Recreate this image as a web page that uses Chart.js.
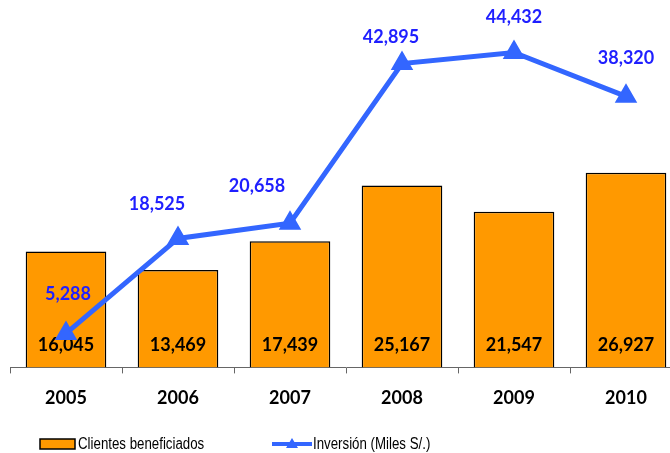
<!DOCTYPE html>
<html>
<head>
<meta charset="utf-8">
<script src="https://cdn.jsdelivr.net/npm/chart.js@4/dist/chart.umd.min.js"></script>
<style>
  html, body { margin: 0; padding: 0; background: #fff; overflow: hidden; }
  #wrap { width: 670px; height: 453px; overflow: hidden; position: relative; }
  #chart { position: absolute; left: 0; top: 0; width: 682px; height: 453px; }
</style>
</head>
<body>
<div id="wrap"><canvas id="chart" width="682" height="453"></canvas></div>
<script>
// chart data
var years = ["2005", "2006", "2007", "2008", "2009", "2010"];
var clientes = [16045, 13469, 17439, 25167, 21547, 26927];
var inversion = [5288, 18525, 20658, 42895, 44432, 38320];
var legendNames = ["Clientes beneficiados", "Inversión (Miles S/.)"];

var orange = "#FF9900";
var lineBlue = "#3366FF";
var labelBlue = "#1F1FFF";

// where each blue label sits relative to its point (hand placed in the original)
var lineLabelShift = [[2, -39], [-21, -34], [-33, -37], [-11, -26], [0, -35], [0, -38]];

function fmt(v) {
    return v.toLocaleString("en-US");
}

// draws the value labels and the legend by hand
var labelPlugin = {
    id: "valueLabels",
    afterDatasetDraw: function (chart, args) {
        if (args.index !== 0) return;
        var ctx = chart.ctx;
        ctx.save();
        ctx.font = "bold 18px Lato, 'Liberation Sans', sans-serif";
        ctx.fillStyle = "#000";
        ctx.textAlign = "center";
        ctx.textBaseline = "middle";
        var bottom = chart.chartArea.bottom;
        args.meta.data.forEach(function (bar, i) {
            ctx.fillText(fmt(clientes[i]), bar.x, bottom - 22);
        });
        ctx.restore();
    },
    afterDatasetsDraw: function (chart) {
        var ctx = chart.ctx;
        var meta = chart.getDatasetMeta(1);
        ctx.save();
        ctx.font = "bold 18px Lato, 'Liberation Sans', sans-serif";
        ctx.fillStyle = labelBlue;
        ctx.textAlign = "center";
        ctx.textBaseline = "middle";
        meta.data.forEach(function (pt, i) {
            ctx.fillText(fmt(inversion[i]), pt.x + lineLabelShift[i][0], pt.y + lineLabelShift[i][1]);
        });
        ctx.restore();
    },
    afterDraw: function (chart) {
        var ctx = chart.ctx;
        var y = 444;
        ctx.save();
        // bar legend box
        ctx.fillStyle = orange;
        ctx.fillRect(40, y - 5, 35, 10);
        ctx.strokeStyle = "#000";
        ctx.lineWidth = 1.5;
        ctx.strokeRect(40, y - 5, 35, 10);
        // line legend
        ctx.strokeStyle = lineBlue;
        ctx.lineWidth = 4;
        ctx.beginPath();
        ctx.moveTo(272, y);
        ctx.lineTo(312, y);
        ctx.stroke();
        ctx.fillStyle = lineBlue;
        ctx.beginPath();
        ctx.moveTo(292, y - 6);
        ctx.lineTo(298, y + 4);
        ctx.lineTo(286, y + 4);
        ctx.closePath();
        ctx.fill();
        // legend text, squeezed like a narrow font
        ctx.fillStyle = "#000";
        ctx.font = "16px 'Liberation Sans', sans-serif";
        ctx.textAlign = "left";
        ctx.textBaseline = "middle";
        ctx.save();
        ctx.translate(78, y + 1);
        ctx.scale(0.83, 1);
        ctx.fillText(legendNames[0], 0, 0);
        ctx.restore();
        ctx.save();
        ctx.translate(313, y + 1);
        ctx.scale(0.83, 1);
        ctx.fillText(legendNames[1], 0, 0);
        ctx.restore();
        ctx.restore();
    }
};

var chartCanvas = document.getElementById("chart").getContext("2d");
var myChart = new Chart(chartCanvas, {
    type: "bar",
    data: {
        labels: years,
        datasets: [
            {
                type: "bar",
                label: legendNames[0],
                data: clientes,
                backgroundColor: orange,
                borderColor: "#000",
                borderWidth: 1.5,
                barPercentage: 0.72,
                categoryPercentage: 1,
                yAxisID: "y",
                order: 1
            },
            {
                type: "line",
                label: legendNames[1],
                data: inversion,
                borderColor: lineBlue,
                backgroundColor: lineBlue,
                borderWidth: 5,
                pointStyle: "triangle",
                pointRadius: 11,
                pointBorderWidth: 2,
                tension: 0,
                yAxisID: "y2",
                order: 0
            }
        ]
    },
    options: {
        responsive: false,
        animation: false,
        devicePixelRatio: 1,
        layout: { autoPadding: false, padding: { left: 10, right: 0, top: 6, bottom: 30 } },
        plugins: {
            legend: { display: false },
            tooltip: { enabled: false }
        },
        scales: {
            x: {
                offset: true,
                grid: {
                    display: true,
                    offset: true,
                    drawOnChartArea: false,
                    drawTicks: true,
                    tickLength: 6,
                    color: "#666"
                },
                border: { display: true, color: "#666", width: 1 },
                ticks: {
                    color: "#000",
                    padding: 14,
                    font: { family: "Lato, 'Liberation Sans', sans-serif", size: 18, weight: "bold" }
                }
            },
            y: {
                display: false,
                min: 0,
                max: 50000
            },
            y2: {
                display: false,
                min: 560,
                max: 50910
            }
        }
    },
    plugins: [labelPlugin]
});
</script>
</body>
</html>
